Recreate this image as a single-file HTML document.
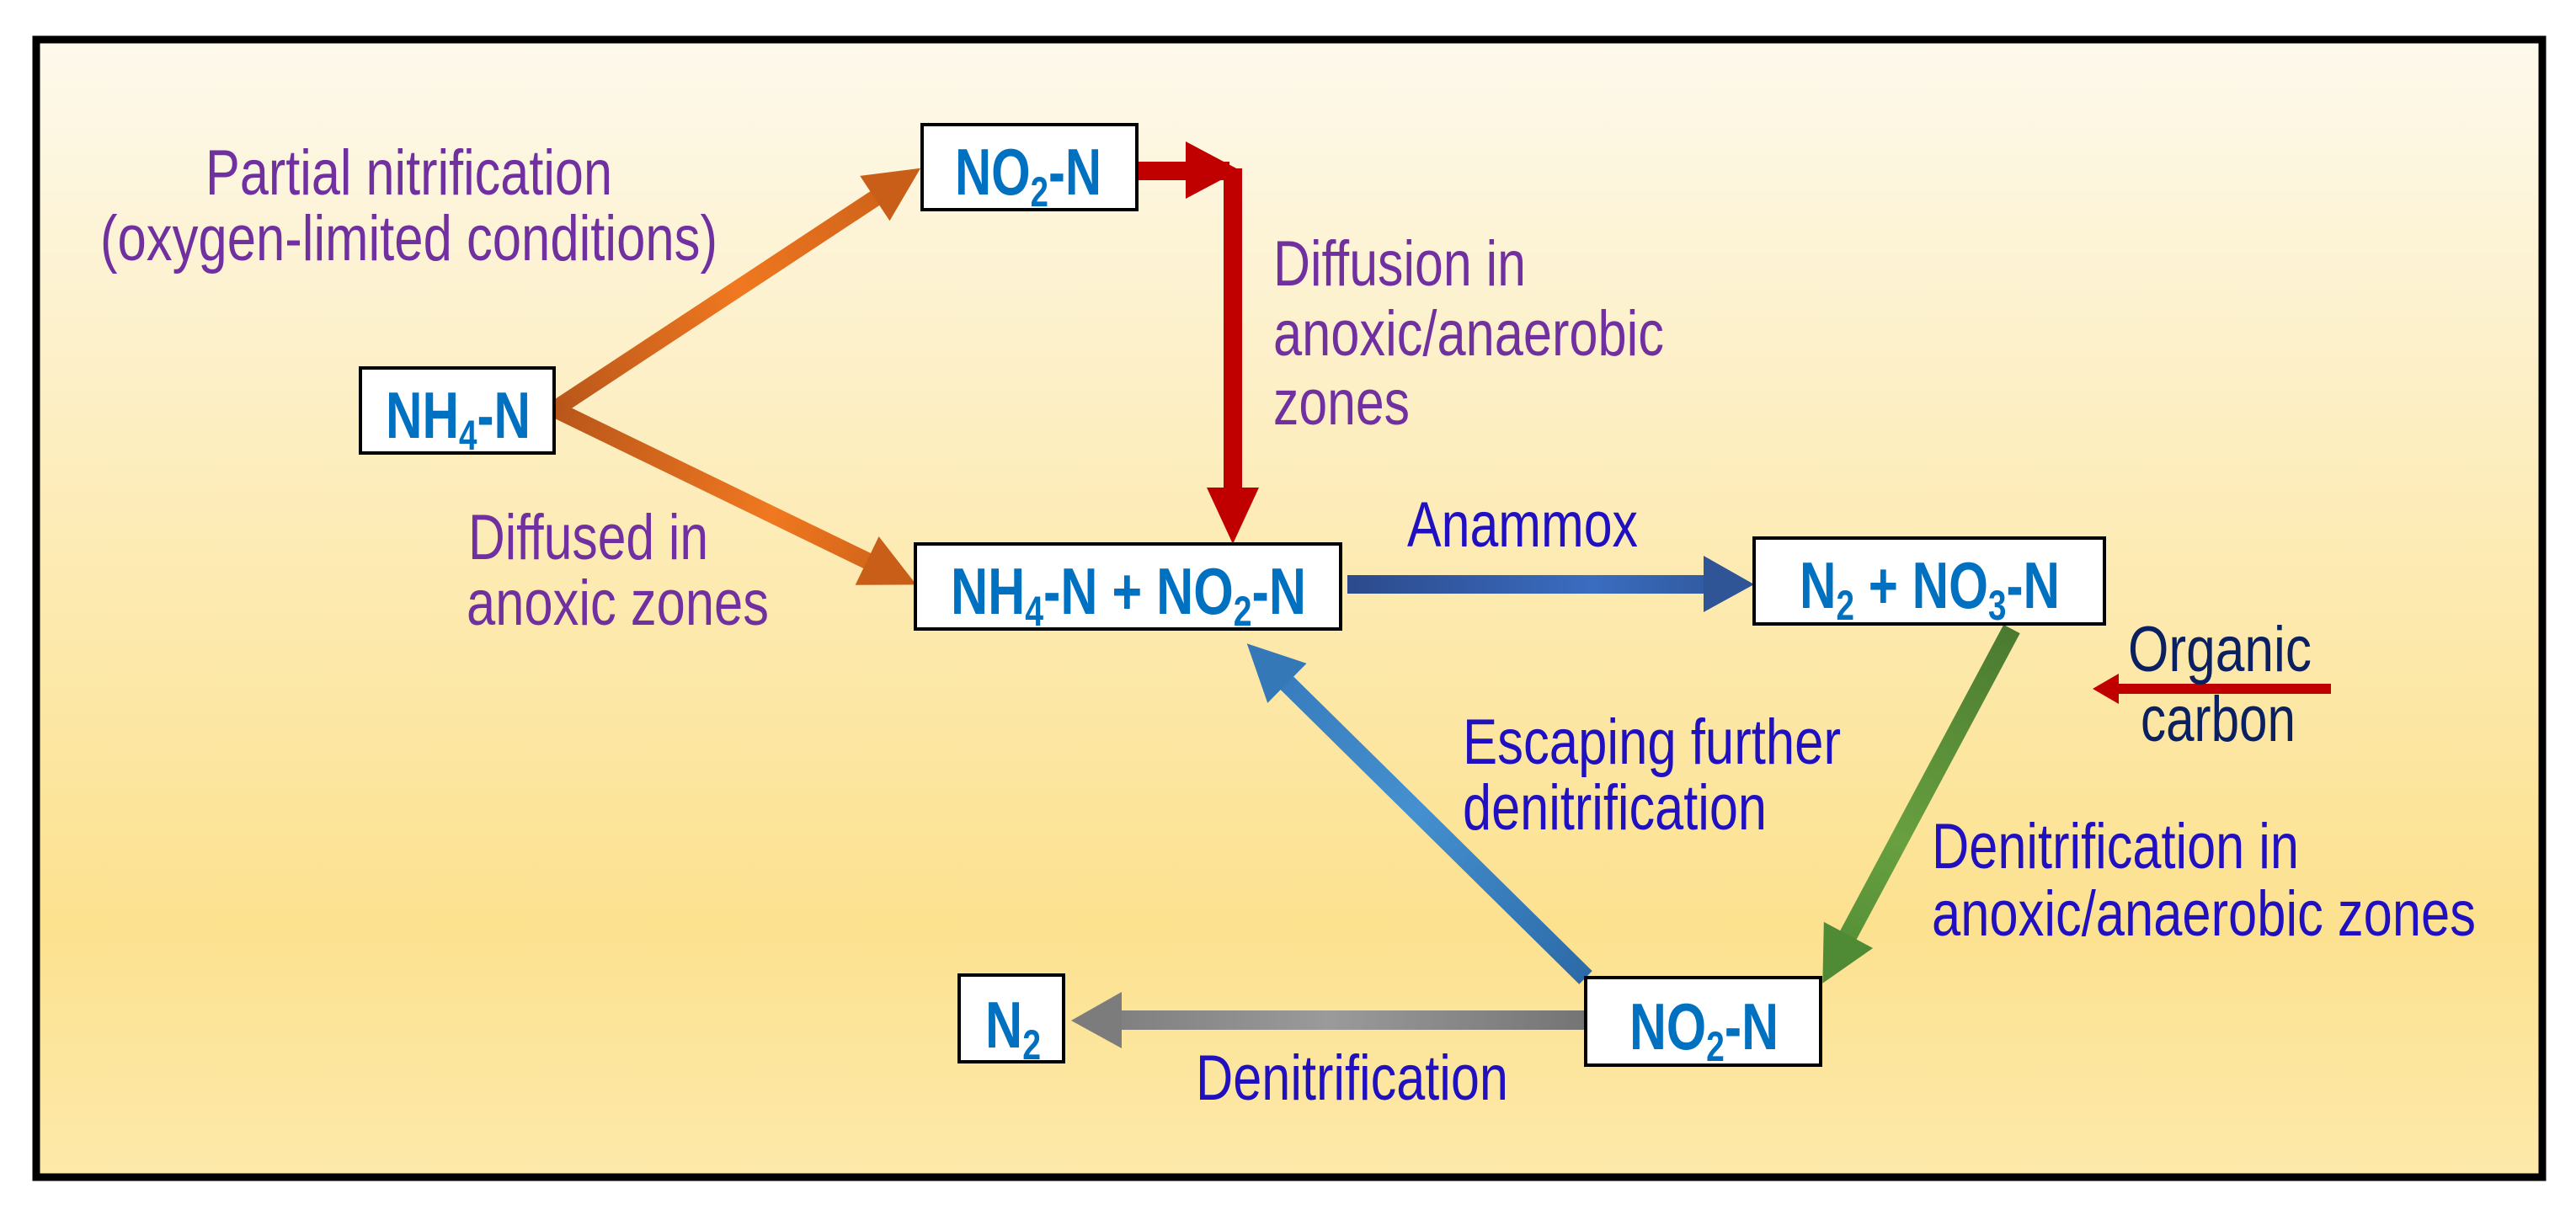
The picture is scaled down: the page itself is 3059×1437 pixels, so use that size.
<!DOCTYPE html>
<html><head><meta charset="utf-8"><style>html,body{margin:0;padding:0;background:#fff}svg{display:block}</style></head><body>
<svg width="3059" height="1437" viewBox="0 0 3059 1437" xmlns="http://www.w3.org/2000/svg" font-family="Liberation Sans, Arial, sans-serif">
<defs>
<linearGradient id="bg" x1="0" y1="0" x2="0" y2="1">
<stop offset="0" stop-color="#fdf9ec"/><stop offset="0.45" stop-color="#fdebb4"/><stop offset="0.78" stop-color="#fce18f"/><stop offset="1" stop-color="#fde9aa"/></linearGradient>
<linearGradient id="or1" gradientUnits="userSpaceOnUse" x1="0" y1="0" x2="520" y2="0"><stop offset="0" stop-color="#b8561a"/><stop offset="0.5" stop-color="#f07820"/><stop offset="1" stop-color="#c85e18"/></linearGradient>
<linearGradient id="or2" gradientUnits="userSpaceOnUse" x1="0" y1="0" x2="477" y2="0"><stop offset="0" stop-color="#b8561a"/><stop offset="0.6" stop-color="#f07820"/><stop offset="1" stop-color="#c85e18"/></linearGradient>
<linearGradient id="bl" gradientUnits="userSpaceOnUse" x1="1600" y1="0" x2="2083" y2="0"><stop offset="0" stop-color="#2c4a8c"/><stop offset="0.6" stop-color="#3a6cc0"/><stop offset="1" stop-color="#2f5596"/></linearGradient>
<linearGradient id="gr" gradientUnits="userSpaceOnUse" x1="0" y1="0" x2="477" y2="0"><stop offset="0" stop-color="#4a7a30"/><stop offset="0.6" stop-color="#68a040"/><stop offset="1" stop-color="#4f8a34"/></linearGradient>
<linearGradient id="lb" gradientUnits="userSpaceOnUse" x1="0" y1="0" x2="565" y2="0"><stop offset="0" stop-color="#2c6aa8"/><stop offset="0.5" stop-color="#4590d0"/><stop offset="1" stop-color="#3478b8"/></linearGradient>
<linearGradient id="gy" gradientUnits="userSpaceOnUse" x1="1272" y1="0" x2="1883" y2="0"><stop offset="0" stop-color="#7a7a7a"/><stop offset="0.5" stop-color="#9a9a9a"/><stop offset="1" stop-color="#747474"/></linearGradient>
</defs>
<rect x="43" y="47" width="2976" height="1351" fill="url(#bg)" stroke="#000" stroke-width="9"/>

<g transform="translate(659,486) rotate(-33.4)"><rect x="0" y="-10" width="462" height="20" fill="url(#or1)"/><polygon points="455,-32 520,0 455,32" fill="#c85e18"/></g>
<g transform="translate(659,486) rotate(25.9)"><rect x="0" y="-10" width="419" height="20" fill="url(#or2)"/><polygon points="412,-32 477,0 412,32" fill="#c85e18"/></g>
<rect x="1350" y="192" width="110" height="22" fill="#c00000"/>
<polygon points="1408,168 1472,202 1408,236" fill="#c00000"/>
<rect x="1453" y="200" width="22" height="385" fill="#c00000"/>
<polygon points="1433,579 1495,579 1464,646" fill="#c00000"/>
<rect x="1600" y="683" width="430" height="22" fill="url(#bl)"/>
<polygon points="2023,660 2083,694 2023,727" fill="#2f5596"/>
<g transform="translate(2389,747) rotate(118.1)"><rect x="0" y="-11" width="417" height="22" fill="url(#gr)"/><polygon points="412,-33 477,0 412,33" fill="#4f8a34"/></g>
<g transform="translate(1883,1161) rotate(224.6)"><rect x="0" y="-11" width="505" height="22" fill="url(#lb)"/><polygon points="498,-33 565,0 498,33" fill="#3478b8"/></g>
<rect x="1325" y="1200" width="558" height="23" fill="url(#gy)"/>
<polygon points="1332,1178 1272,1212 1332,1245" fill="#7c7c7c"/>
<rect x="2510" y="812" width="258" height="12" fill="#c00000"/>
<polygon points="2516,800 2485,818 2516,836" fill="#c00000"/>

<g fill="#fff" stroke="#000" stroke-width="4">
<rect x="1095" y="148" width="255" height="101"/>
<rect x="428" y="437" width="230" height="101"/>
<rect x="1087" y="646" width="505" height="101"/>
<rect x="2083" y="639" width="416" height="102"/>
<rect x="1139" y="1158" width="124" height="103"/>
<rect x="1883" y="1161" width="279" height="104"/>
</g>
<g fill="#0070c0" font-weight="bold" font-size="78">
<text x="1134" y="231" textLength="174" lengthAdjust="spacingAndGlyphs">NO<tspan font-size="50" dy="14">2</tspan><tspan dy="-14">-N</tspan></text>
<text x="458" y="520" textLength="172" lengthAdjust="spacingAndGlyphs">NH<tspan font-size="50" dy="14">4</tspan><tspan dy="-14">-N</tspan></text>
<text x="1129" y="729" textLength="422" lengthAdjust="spacingAndGlyphs">NH<tspan font-size="50" dy="14">4</tspan><tspan dy="-14">-N + NO</tspan><tspan font-size="50" dy="14">2</tspan><tspan dy="-14">-N</tspan></text>
<text x="2137" y="722" textLength="309" lengthAdjust="spacingAndGlyphs">N<tspan font-size="50" dy="14">2</tspan><tspan dy="-14"> + NO</tspan><tspan font-size="50" dy="14">3</tspan><tspan dy="-14">-N</tspan></text>
<text x="1170" y="1244" textLength="66" lengthAdjust="spacingAndGlyphs">N<tspan font-size="50" dy="14">2</tspan></text>
<text x="1935" y="1246" textLength="177" lengthAdjust="spacingAndGlyphs">NO<tspan font-size="50" dy="14">2</tspan><tspan dy="-14">-N</tspan></text>
</g>
<g fill="#7030a0" font-size="76">
<text x="244" y="231" textLength="483" lengthAdjust="spacingAndGlyphs">Partial nitrification</text>
<text x="119" y="309" textLength="733" lengthAdjust="spacingAndGlyphs">(oxygen-limited conditions)</text>
<text x="556" y="664" textLength="285" lengthAdjust="spacingAndGlyphs">Diffused in</text>
<text x="554" y="742" textLength="359" lengthAdjust="spacingAndGlyphs">anoxic zones</text>
<text x="1512" y="339" textLength="300" lengthAdjust="spacingAndGlyphs">Diffusion in</text>
<text x="1512" y="422" textLength="464" lengthAdjust="spacingAndGlyphs">anoxic/anaerobic</text>
<text x="1512" y="504" textLength="162" lengthAdjust="spacingAndGlyphs">zones</text>
</g>
<g fill="#2010c0" font-size="76">
<text x="1671" y="649" textLength="274" lengthAdjust="spacingAndGlyphs">Anammox</text>
<text x="1737" y="907" textLength="449" lengthAdjust="spacingAndGlyphs">Escaping further</text>
<text x="1737" y="985" textLength="361" lengthAdjust="spacingAndGlyphs">denitrification</text>
<text x="2294" y="1031" textLength="436" lengthAdjust="spacingAndGlyphs">Denitrification in</text>
<text x="2294" y="1111" textLength="646" lengthAdjust="spacingAndGlyphs">anoxic/anaerobic zones</text>
<text x="1420" y="1306" textLength="371" lengthAdjust="spacingAndGlyphs">Denitrification</text>
</g>
<g fill="#0a2060" font-size="76">
<text x="2527" y="797" textLength="218" lengthAdjust="spacingAndGlyphs">Organic</text>
<text x="2542" y="880" textLength="184" lengthAdjust="spacingAndGlyphs">carbon</text>
</g>
</svg>
</body></html>
